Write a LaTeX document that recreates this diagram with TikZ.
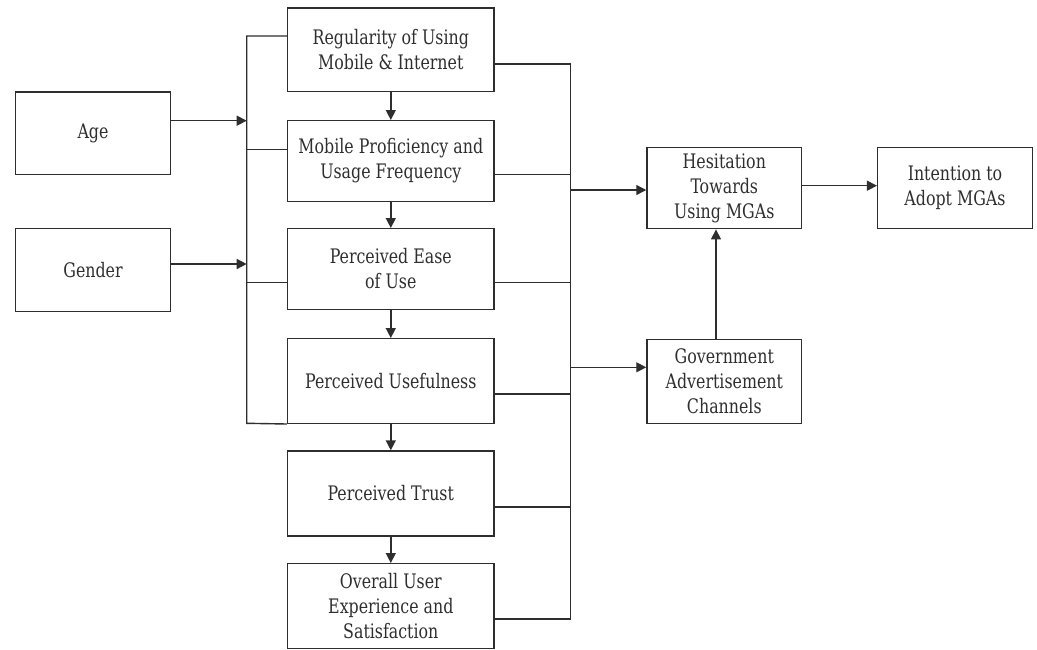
\documentclass[tikz,border=0pt]{standalone}
\usepackage{fontspec}
\setmainfont[FakeStretch=0.88]{DejaVu Serif Condensed}
\usetikzlibrary{arrows.meta}
\definecolor{ink}{HTML}{2E2E2E}
\begin{document}
\begin{tikzpicture}[x=1pt,y=-1pt,
  box/.style={draw=ink,line width=1.4pt,text=ink,align=center,inner sep=2pt,
    font=\fontsize{20}{25}\selectfont},
  ln/.style={draw=ink,line width=1.4pt},
  arr/.style={ln,-{Triangle[length=10pt,width=10pt]}}]
\useasboundingbox (0,0) rectangle (1037,649);
% left boxes
\node[box,minimum width=154.6pt,minimum height=82.7pt] (age) at (93,133.3) {Age};
\node[box,minimum width=154.6pt,minimum height=82.6pt] (gender) at (93,270) {Gender};
% main column
\node[box,minimum width=206.3pt,minimum height=83.7pt] (b1) at (390.8,49.8) {Regularity of Using\\Mobile \& Internet};
\node[box,minimum width=206.3pt,minimum height=80.6pt] (b2) at (390.8,161) {Mobile Proficiency and\\Usage Frequency};
\node[box,minimum width=206.3pt,minimum height=80.6pt] (b3) at (390.8,269) {Perceived Ease\\of Use};
\node[box,minimum width=206.3pt,minimum height=84.6pt] (b4) at (390.8,381) {Perceived Usefulness};
\node[box,minimum width=206.3pt,minimum height=85pt] (b5) at (390.8,493.5) {Perceived Trust};
\node[box,minimum width=206.3pt,minimum height=84.6pt] (b6) at (390.8,606) {Overall User\\Experience and\\Satisfaction};
% right
\node[box,minimum width=154.7pt,minimum height=81pt] (hes) at (724.3,188.2) {Hesitation\\Towards\\Using MGAs};
\node[box,minimum width=154.7pt,minimum height=81pt] (int) at (955,188.2) {Intention to\\Adopt MGAs};
\node[box,minimum width=154.7pt,minimum height=84pt] (gov) at (724.3,381.3) {Government\\Advertisement\\Channels};
% left bus coordinates
\coordinate (L0) at (246.7,36);
\coordinate (Lage) at (246.7,120.7);
\coordinate (Lb2) at (246.7,149.3);
\coordinate (Lgen) at (246.7,264);
\coordinate (Lb3) at (246.7,282.3);
\coordinate (L4) at (246.7,423.3);
\draw[ln] (b1.west |- L0) -- (L0) -- (L4) -- (b4.south west);
\draw[ln] (b2.west |- Lb2) -- (Lb2);
\draw[ln] (b3.west |- Lb3) -- (Lb3);
\draw[arr] (age.east |- Lage) -- (Lage);
\draw[arr] (gender.east |- Lgen) -- (Lgen);
% vertical chain
\draw[arr] (b1) -- (b2);
\draw[arr] (b2) -- (b3);
\draw[arr] (b3) -- (b4);
\draw[arr] (b4) -- (b5);
\draw[arr] (b5) -- (b6);
% right bus
\coordinate (R1) at (570.7,64);
\coordinate (R2) at (570.7,174.7);
\coordinate (R3) at (570.7,282.7);
\coordinate (R4) at (570.7,394);
\coordinate (R5) at (570.7,507);
\coordinate (R6) at (570.7,619);
\coordinate (Rh) at (570.7,190);
\coordinate (Rg) at (570.7,367.3);
\draw[ln] (b1.east |- R1) -- (R1) -- (R6) -- (b6.east |- R6);
\draw[ln] (b2.east |- R2) -- (R2);
\draw[ln] (b3.east |- R3) -- (R3);
\draw[ln] (b4.east |- R4) -- (R4);
\draw[ln] (b5.east |- R5) -- (R5);
\draw[arr] (Rh) -- (hes.west |- Rh);
\draw[arr] (Rg) -- (gov.west |- Rg);
\draw[arr] ([yshift=2.5pt]hes.east) -- ([yshift=2.5pt]int.west);
\draw[arr] ([xshift=-8.3pt]gov.north) -- ([xshift=-8.3pt]hes.south);
\end{tikzpicture}
\end{document}
